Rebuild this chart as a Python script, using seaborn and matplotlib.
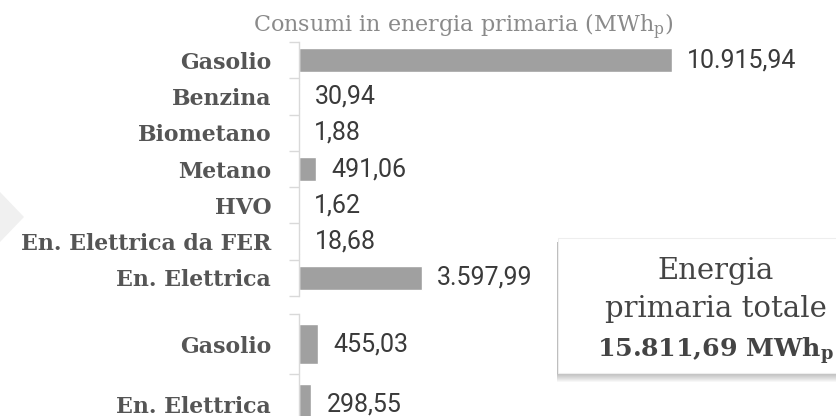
import numpy as np
import matplotlib
matplotlib.use("Agg")
import matplotlib.pyplot as plt
from matplotlib.patches import Polygon, Rectangle
import seaborn as sns

# Consumi in energia primaria per fonte (MWh_p)
fonti_gruppo1 = ["Gasolio", "Benzina", "Biometano", "Metano", "HVO",
                 "En. Elettrica da FER", "En. Elettrica"]
valori_gruppo1 = [10915.94, 30.94, 1.88, 491.06, 1.62, 18.68, 3597.99]
fonti_gruppo2 = ["Gasolio", "En. Elettrica"]
valori_gruppo2 = [455.03, 298.55]

titolo = "Consumi in energia primaria (MWh$\\mathregular{_p}$)"
totale = sum(valori_gruppo1) + sum(valori_gruppo2)


def fmt_it(v):
    s = f"{v:,.2f}"
    return s.replace(",", "X").replace(".", ",").replace("X", ".")


W, H = 836, 416
sns.set_style("white")
plt.rcParams["font.family"] = ["DejaVu Serif"]
fig = plt.figure(figsize=(W / 100, H / 100), dpi=100)


def px_rect(left, top, right, bottom):
    return [left / W, 1 - bottom / H, (right - left) / W, (bottom - top) / H]


def px_pt(x, y):
    return (x / W, 1 - y / H)


# decorative chevron on the left edge
fig.add_artist(Polygon([px_pt(0, 192), px_pt(24, 217), px_pt(0, 242)],
                       closed=True, transform=fig.transFigure,
                       facecolor="#f0f0f0", edgecolor="none", zorder=0))

BAR = "#a0a0a0"
AXC = "#d9d9d9"
LBL = "#555555"
NUM = "#3a3a3a"


def pannello(ax, fonti, valori, xmax, width):
    sns.barplot(x=valori, y=fonti, ax=ax, color=BAR, saturation=1,
                width=width, orient="h")
    n = len(fonti)
    ax.set_ylim(n - 0.5, -0.5)
    ax.set_xlim(0, xmax)
    ax.set_xticks([])
    ax.set_xlabel("")
    ax.set_ylabel("")
    ax.set_yticks(np.arange(n + 1) - 0.5, minor=True)
    ax.tick_params(axis="y", which="major", left=False, length=0, pad=20,
                   labelsize=15.8, labelcolor=LBL)
    ax.tick_params(axis="y", which="minor", left=True, length=7, width=1,
                   color=AXC)
    for t in ax.get_yticklabels():
        t.set_fontweight("bold")
    for s in ("top", "right", "bottom"):
        ax.spines[s].set_visible(False)
    ax.spines["left"].set_color(AXC)
    ax.spines["left"].set_linewidth(1)
    ax.patch.set_alpha(0)
    for i, v in enumerate(valori):
        ax.annotate(fmt_it(v), xy=(v, i), xytext=(11, 0),
                    textcoords="offset points", ha="left", va="center",
                    fontfamily="Roboto", fontsize=18, color=NUM,
                    annotation_clip=False)


ax1 = fig.add_axes(px_rect(299, 42, 672, 296))
pannello(ax1, fonti_gruppo1, valori_gruppo1, max(valori_gruppo1), 0.66)

ax2 = fig.add_axes(px_rect(299, 314, 672, 434))
pannello(ax2, fonti_gruppo2, valori_gruppo2, 9000, 0.68)

fig.text(*px_pt(463, 32), titolo, ha="center", va="baseline",
         fontsize=16, color="#8a8a8a")

# total box with soft shadow
for k in range(1, 10):
    fig.add_artist(Rectangle(px_pt(557, 373 + k), (900 - 557) / W,
                             (373 + k - 242) / H, transform=fig.transFigure,
                             facecolor="black", alpha=0.03,
                             edgecolor="none", zorder=5))
fig.add_artist(Rectangle(px_pt(558, 373), (900 - 558) / W, (373 - 238) / H,
                         transform=fig.transFigure, facecolor="white",
                         edgecolor="#eeeeee", linewidth=0.8, zorder=6))
fig.text(*px_pt(716, 279), "Energia", ha="center", va="baseline",
         fontsize=21, color="#444444", zorder=7)
fig.text(*px_pt(716, 317), "primaria totale", ha="center", va="baseline",
         fontsize=21, color="#444444", zorder=7)
fig.text(*px_pt(716, 357), fmt_it(totale) + " MWh$\\mathregular{_p}$",
         ha="center", va="baseline", fontsize=18.2, fontweight="bold",
         color="#444444", zorder=7)

fig.savefig("out.png", dpi=100)
